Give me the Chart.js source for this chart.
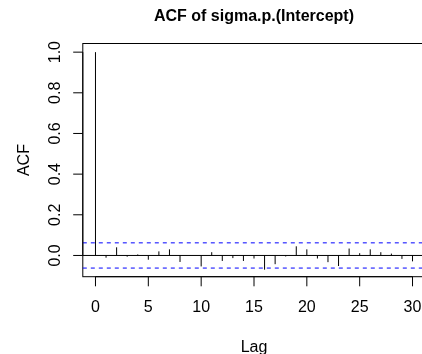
<!DOCTYPE html>
<html>
<head>
<meta charset="utf-8">
<script src="https://cdn.jsdelivr.net/npm/chart.js@4"></script>
<style>
  html, body { margin: 0; padding: 0; background: #fff; overflow: hidden; }
  #wrap { width: 422px; height: 354px; overflow: hidden; }
</style>
</head>
<body>
<div id="wrap"><canvas id="acf" width="430" height="354"></canvas></div>
<script>
// autocorrelation of sigma.p.(Intercept), lags 0..30
const lags = [0, 1, 2, 3, 4, 5, 6, 7, 8, 9, 10, 11, 12, 13, 14, 15, 16, 17, 18, 19, 20, 21, 22, 23, 24, 25, 26, 27, 28, 29, 30];
const acfValues = [1.0, -0.011, 0.040, -0.006, 0.005, -0.021, 0.020, 0.030, -0.032, 0.001, -0.054, 0.016, -0.027, -0.013, -0.027, -0.015, -0.070, -0.043, -0.005, 0.045, 0.030, -0.015, -0.033, -0.052, 0.034, 0.011, 0.030, 0.016, 0.009, -0.017, -0.029];
const ciLimit = 0.062; // 1.96 / sqrt(n)

const xTicks = [0, 5, 10, 15, 20, 25, 30];
const yTicks = [0, 0.2, 0.4, 0.6, 0.8, 1.0];
const yTickLabels = ['0.0', '0.2', '0.4', '0.6', '0.8', '1.0'];

const titleText = 'ACF of sigma.p.(Intercept)';
const xTitle = 'Lag';
const yTitle = 'ACF';

const FONT = '"Liberation Sans", Arial, Helvetica, sans-serif';

// R-style axes, box, confidence lines and spikes
const acfPlot = {
  id: 'acfPlot',
  afterDraw(chart) {
    const c = chart.ctx;
    const xs = chart.scales.x, ys = chart.scales.y;
    const a = chart.chartArea;
    const y0 = ys.getPixelForValue(0);
    c.save();
    c.strokeStyle = '#000';
    c.lineWidth = 1;

    // frame
    c.strokeRect(a.left, a.top, a.right - a.left, a.bottom - a.top);

    // zero line
    c.beginPath();
    c.moveTo(a.left, y0);
    c.lineTo(a.right, y0);
    c.stroke();

    // confidence bounds
    c.strokeStyle = '#0000ff';
    c.setLineDash([4, 4]);
    [ciLimit, -ciLimit].forEach(v => {
      const y = ys.getPixelForValue(v);
      c.beginPath();
      c.moveTo(a.left, y);
      c.lineTo(a.right, y);
      c.stroke();
    });
    c.setLineDash([]);

    // spikes
    c.strokeStyle = '#000';
    lags.forEach((lag, i) => {
      const x = xs.getPixelForValue(lag);
      c.beginPath();
      c.moveTo(x, y0);
      c.lineTo(x, ys.getPixelForValue(acfValues[i]));
      c.stroke();
    });

    const tick = 9.6;
    c.fillStyle = '#000';
    c.font = '16px ' + FONT;

    // x axis
    c.beginPath();
    c.moveTo(xs.getPixelForValue(xTicks[0]), a.bottom);
    c.lineTo(xs.getPixelForValue(xTicks[xTicks.length - 1]), a.bottom);
    c.stroke();
    c.textAlign = 'center';
    c.textBaseline = 'alphabetic';
    xTicks.forEach(t => {
      const x = xs.getPixelForValue(t);
      c.beginPath();
      c.moveTo(x, a.bottom);
      c.lineTo(x, a.bottom + tick);
      c.stroke();
      c.fillText(String(t), x, 312);
    });

    // y axis
    c.beginPath();
    c.moveTo(a.left, ys.getPixelForValue(yTicks[0]));
    c.lineTo(a.left, ys.getPixelForValue(yTicks[yTicks.length - 1]));
    c.stroke();
    yTicks.forEach((t, i) => {
      const y = ys.getPixelForValue(t);
      c.beginPath();
      c.moveTo(a.left, y);
      c.lineTo(a.left - tick, y);
      c.stroke();
      c.save();
      c.translate(60, y);
      c.rotate(-Math.PI / 2);
      c.fillText(yTickLabels[i], 0, 0);
      c.restore();
    });

    // titles
    const cx = (a.left + a.right) / 2;
    const cy = (a.top + a.bottom) / 2;
    c.fillText(xTitle, cx, 352);
    c.save();
    c.translate(29, cy);
    c.rotate(-Math.PI / 2);
    c.fillText(yTitle, 0, 0);
    c.restore();

    c.font = 'bold 16px ' + FONT;
    c.fillText(titleText, cx, 21);
    c.restore();
  }
};

new Chart(document.getElementById('acf'), {
  type: 'scatter',
  data: {
    datasets: [{
      data: lags.map((l, i) => ({ x: l, y: acfValues[i] })),
      pointRadius: 0,
      showLine: false
    }]
  },
  options: {
    responsive: false,
    animation: false,
    devicePixelRatio: 1,
    layout: { padding: { left: 82.8, right: 4.8, top: 43.5, bottom: 77.3 } },
    scales: {
      x: { type: 'linear', min: -1.2, max: 31.2, display: false },
      y: { type: 'linear', min: -0.1045, max: 1.0425, display: false }
    },
    plugins: {
      legend: { display: false },
      tooltip: { enabled: false }
    }
  },
  plugins: [acfPlot]
});
</script>
</body>
</html>
